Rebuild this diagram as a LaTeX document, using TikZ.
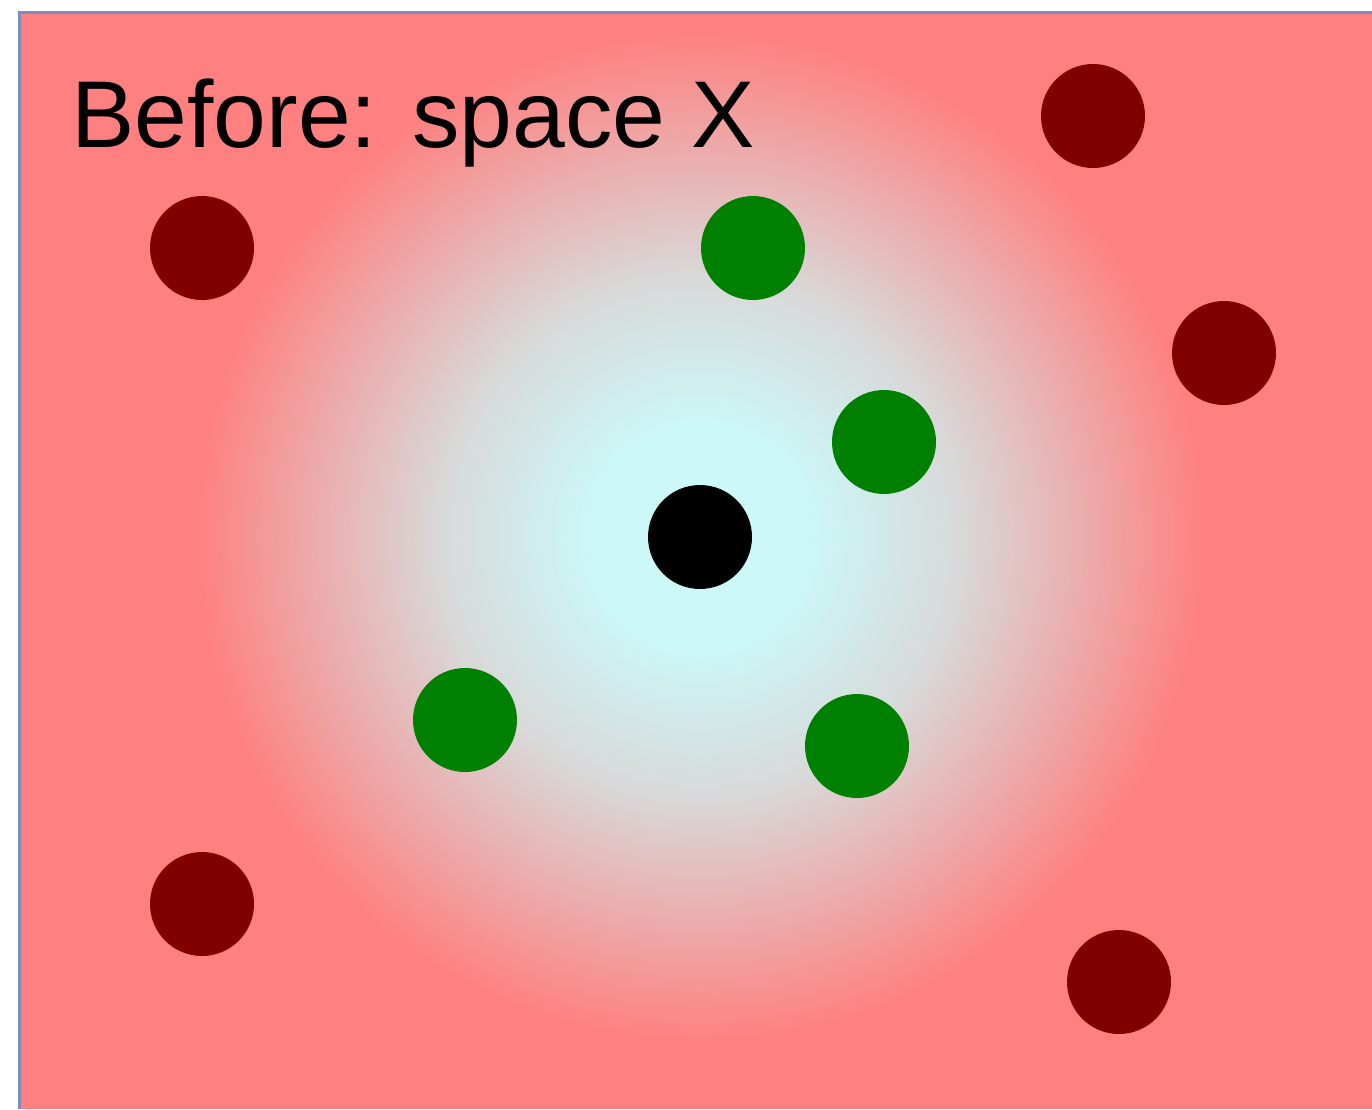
\documentclass[tikz,border=0pt]{standalone}
\usepackage{fontspec}
\setmainfont{Liberation Sans}
\definecolor{bgpink}{RGB}{255,128,128}
\definecolor{darkred}{RGB}{128,0,0}
\definecolor{dotgreen}{RGB}{0,128,0}
\definecolor{frameblue}{RGB}{125,140,190}
\pgfdeclareradialshading{glow}{\pgfpoint{0bp}{0bp}}{rgb(0bp)=(0.80,0.975,0.975); rgb(5.4bp)=(0.80,0.97,0.97); rgb(12.9bp)=(0.85,0.85,0.85); rgb(25bp)=(1,0.502,0.502); rgb(50bp)=(1,0.502,0.502)}
\begin{document}
\begin{tikzpicture}[x=0.02cm,y=-0.02cm,
  ball/.style={circle,minimum size=2.08cm,inner sep=0pt,draw=none},
  reddot/.style={ball,fill=darkred},
  greendot/.style={ball,fill=dotgreen},
  blackdot/.style={ball,fill=black},
  label/.style={font=\fontsize{54}{60}\selectfont,anchor=base west,inner sep=0pt,text=black}]
\useasboundingbox (0,0) rectangle (1372,1109);
\fill[white] (0,0) rectangle (1372,1109);
\fill[bgpink] (19,12) rectangle (1372,1109);
\begin{scope}
\clip (19,12) rectangle (1372,1109);
\shade[shading=glow] (700,537) circle (505);
\end{scope}
\draw[frameblue,line width=0.07cm] (19.5,1109) -- (19.5,12.5) -- (1372,12.5);
\node[label] (title) at (71,147) {Before: space X};
\node[reddot] (r1) at (202,248) {};
\node[reddot] (r2) at (1093,116) {};
\node[reddot] (r3) at (1224,353) {};
\node[reddot] (r4) at (202,904) {};
\node[reddot] (r5) at (1119,982) {};
\node[greendot] (g1) at (753,248) {};
\node[greendot] (g2) at (884,442) {};
\node[greendot] (g3) at (465,720) {};
\node[greendot] (g4) at (857,746) {};
\node[blackdot] (c) at (700,537) {};
\end{tikzpicture}
\end{document}
